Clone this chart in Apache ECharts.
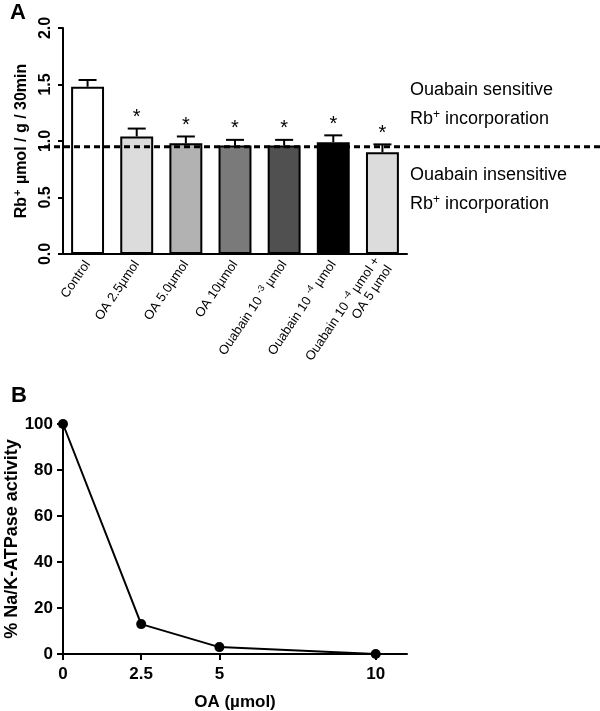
<!DOCTYPE html>
<html><head><meta charset="utf-8">
<script src="https://cdn.jsdelivr.net/npm/echarts@6/dist/echarts.min.js"></script>
<style>html,body{margin:0;padding:0;background:#fff}#c{width:600px;height:711px}</style>
</head><body><div id="c"></div>
<script>
// ---- Panel A data ----
const aCategories = ['Control', 'OA 2.5µmol', 'OA 5.0µmol', 'OA 10µmol', 'Ouabain 10-3 µmol', 'Ouabain 10-4 µmol', 'Ouabain 10-4 µmol + OA 5 µmol'];
const aLabels = ['Control', 'OA 2.5µmol', 'OA 5.0µmol', 'OA 10µmol', 'Ouabain 10 {s|-3} µmol', 'Ouabain 10 {s|-4} µmol', 'Ouabain 10 {s|-4} µmol +\nOA 5 µmol'];
const aValues = [1.48, 1.04, 0.98, 0.96, 0.96, 0.99, 0.90];
const aErrors = [0.06, 0.07, 0.06, 0.05, 0.05, 0.06, 0.07];
const aStars = ['', '*', '*', '*', '*', '*', '*'];
const aColors = ['#ffffff', '#dcdcdc', '#b2b2b2', '#7a7a7a', '#505050', '#000000', '#dcdcdc'];
const aThreshold = 0.95;

// ---- Panel B data ----
const bX = [0, 2.5, 5, 10];
const bY = [100, 13, 3, 0];
const bXTicks = [0, 2.5, 5, 10];

const FONT = "'Liberation Sans', Arial, sans-serif";
const chart = echarts.init(document.getElementById('c'), null, {renderer: 'canvas'});

const option = {
  animation: false,
  backgroundColor: '#ffffff',
  textStyle: {fontFamily: FONT, color: '#000'},
  grid: [
    {left: 63, right: 193, top: 28, bottom: 457, containLabel: false, outerBoundsMode: 'none'},
    {left: 63, right: 193, top: 424, bottom: 57, containLabel: false, outerBoundsMode: 'none'},
    {left: 44, right: 0, top: 28, bottom: 457, containLabel: false, outerBoundsMode: 'none'}
  ],
  xAxis: [
    {
      gridIndex: 0, type: 'category', data: aCategories,
      axisLine: {lineStyle: {color: '#000', width: 2}},
      axisTick: {show: false},
      axisLabel: {
        interval: 0, rotate: 56, margin: 8, fontSize: 13, color: '#000', fontFamily: FONT,
        formatter: (v, i) => aLabels[i],
        rich: {s: {fontSize: 9, padding: [0, 0, 8, 0], fontFamily: FONT, color: '#000'}}
      },
      splitLine: {show: false}
    },
    {
      gridIndex: 1, type: 'value', min: 0, max: 11,
      name: 'OA (µmol)', nameLocation: 'middle', nameGap: 40, nameMoveOverlap: false,
      nameTextStyle: {fontSize: 17, fontWeight: 'bold', color: '#000', fontFamily: FONT},
      axisLine: {onZero: false, lineStyle: {color: '#000', width: 2}},
      axisTick: {show: true, length: 6, lineStyle: {color: '#000', width: 2}, customValues: bXTicks},
      axisLabel: {fontSize: 17, fontWeight: 'bold', color: '#000', margin: 12, fontFamily: FONT, customValues: bXTicks,
        formatter: v => String(v)},
      splitLine: {show: false}
    },
    {gridIndex: 2, type: 'value', min: 0, max: 1, show: false}
  ],
  yAxis: [
    {
      gridIndex: 0, type: 'value', min: 0, max: 2, interval: 0.5,
      name: '{a|Rb}{s|+}{a| µmol / g / 30min}', nameLocation: 'middle', nameGap: 31, nameRotate: 90, nameMoveOverlap: false,
      nameTextStyle: {
        rich: {
          a: {fontSize: 16, fontWeight: 'bold', color: '#000', fontFamily: FONT},
          s: {fontSize: 11, fontWeight: 'bold', color: '#000', fontFamily: FONT, padding: [0, 1, 9, 1]}
        }
      },
      axisLine: {show: true, lineStyle: {color: '#000', width: 2}},
      axisTick: {show: true, length: 5, lineStyle: {color: '#000', width: 2}},
      axisLabel: {rotate: 90, fontSize: 16, fontWeight: 'bold', color: '#000', margin: 9, fontFamily: FONT,
        formatter: v => v.toFixed(1)},
      splitLine: {show: false}
    },
    {
      gridIndex: 1, type: 'value', min: 0, max: 100, interval: 20,
      name: '% Na/K-ATPase activity', nameLocation: 'middle', nameGap: 42, nameMoveOverlap: false,
      nameTextStyle: {fontSize: 18, fontWeight: 'bold', color: '#000', fontFamily: FONT},
      axisLine: {show: true, lineStyle: {color: '#000', width: 2}},
      axisTick: {show: true, length: 6, lineStyle: {color: '#000', width: 2}},
      axisLabel: {fontSize: 17, fontWeight: 'bold', color: '#000', margin: 10, fontFamily: FONT},
      splitLine: {show: false}
    },
    {gridIndex: 2, type: 'value', min: 0, max: 2, show: false}
  ],
  series: [
    {
      type: 'bar', xAxisIndex: 0, yAxisIndex: 0, barWidth: '67%',
      data: aValues.map((v, i) => ({value: v, itemStyle: {color: aColors[i], borderColor: '#000', borderWidth: 2}})),
      z: 2
    },
    {
      type: 'custom', xAxisIndex: 0, yAxisIndex: 0, z: 3,
      data: aValues.map((v, i) => [i, v, v + aErrors[i]]),
      renderItem: function (params, api) {
        const i = api.value(0);
        const p0 = api.coord([i, api.value(1)]);
        const p1 = api.coord([i, api.value(2)]);
        const capHalf = 9;
        const children = [
          {type: 'line', shape: {x1: p0[0], y1: p0[1], x2: p1[0], y2: p1[1]}, style: {stroke: '#000', lineWidth: 2}},
          {type: 'line', shape: {x1: p1[0] - capHalf, y1: p1[1], x2: p1[0] + capHalf, y2: p1[1]}, style: {stroke: '#000', lineWidth: 2}}
        ];
        const star = aStars[params.dataIndex];
        if (star) {
          children.push({type: 'text', style: {text: star, x: p1[0], y: p1[1] - 1, align: 'center', verticalAlign: 'bottom',
            fontSize: 20, fontFamily: FONT, fill: '#000'}});
        }
        return {type: 'group', children: children};
      }
    },
    {
      type: 'line', xAxisIndex: 2, yAxisIndex: 2, z: 10, symbol: 'none', silent: true,
      data: [[0, aThreshold], [1, aThreshold]],
      lineStyle: {color: '#000', width: 3, type: [6, 4]}
    },
    {
      type: 'line', xAxisIndex: 1, yAxisIndex: 1, z: 5,
      data: bX.map((x, i) => [x, bY[i]]),
      symbol: 'circle', symbolSize: 10,
      itemStyle: {color: '#000'},
      lineStyle: {color: '#000', width: 2}
    }
  ],
  graphic: [
    {type: 'text', left: 10, top: 2, style: {text: 'A', fontSize: 22, fontWeight: 'bold', fontFamily: FONT, fill: '#000'}},
    {type: 'text', left: 11, top: 385, style: {text: 'B', fontSize: 22, fontWeight: 'bold', fontFamily: FONT, fill: '#000'}},
    {type: 'text', left: 410, top: 76, style: {text: 'Ouabain sensitive\n{a|Rb}{s|+}{a| incorporation}', fontSize: 18, lineHeight: 29, fontFamily: FONT, fill: '#000',
      rich: {a: {fontSize: 18, fontFamily: FONT, lineHeight: 29}, s: {fontSize: 12, fontFamily: FONT, padding: [0, 0, 10, 0]}}}},
    {type: 'text', left: 410, top: 161, style: {text: 'Ouabain insensitive\n{a|Rb}{s|+}{a| incorporation}', fontSize: 18, lineHeight: 29, fontFamily: FONT, fill: '#000',
      rich: {a: {fontSize: 18, fontFamily: FONT, lineHeight: 29}, s: {fontSize: 12, fontFamily: FONT, padding: [0, 0, 10, 0]}}}}
  ]
};
chart.setOption(option);
</script>
</body></html>
